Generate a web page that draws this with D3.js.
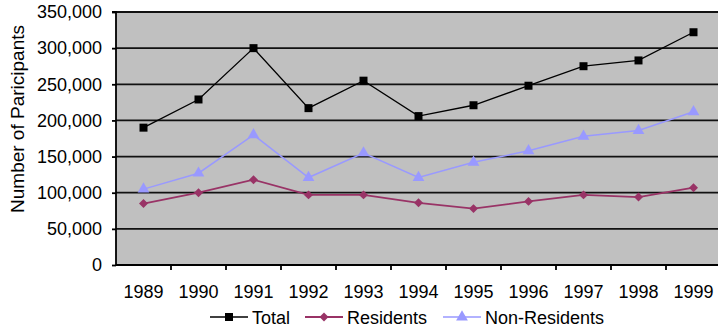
<!DOCTYPE html>
<html><head><meta charset="utf-8">
<script src="https://cdn.jsdelivr.net/npm/d3@7"></script>
<style>body{margin:0;background:#fff}svg{display:block}text{font-family:"Liberation Sans",Arial,sans-serif}</style>
</head><body>
<svg id="c" width="718" height="331"></svg>
<script>
const years = ["1989","1990","1991","1992","1993","1994","1995","1996","1997","1998","1999"];
const total = [190000,229000,300000,217000,255000,206000,221000,248000,275000,283000,322000];
const residents = [85000,100000,118000,97000,97000,86000,78000,88000,97000,94000,107000];
const nonResidents = [105000,127000,180000,121000,155000,121000,142000,158000,178000,186000,212000];
const yTicks = [0,50000,100000,150000,200000,250000,300000,350000];

const svg = d3.select("#c");
const L = 116, R = 721, T = 12, B = 265;
const x = d3.scaleBand().domain(years).range([L, R]);
const y = d3.scaleLinear().domain([0,350000]).range([B, T]);
const FS = 18;

svg.append("rect").attr("x",L).attr("y",T).attr("width",R-L).attr("height",B-T).attr("fill","#c0c0c0");
svg.append("g").selectAll("line").data(yTicks.slice(1)).join("line")
  .attr("x1",L).attr("x2",R).attr("y1",d=>y(d)).attr("y2",d=>y(d))
  .attr("stroke","#111").attr("stroke-width",1.8);

const fmt = d3.format(",");
const yAxis = d3.axisLeft(y).tickValues(yTicks).tickFormat(d=>fmt(d)).tickSize(4).tickPadding(10);
const gy = svg.append("g").attr("transform",`translate(${L},0)`).call(yAxis);
gy.select(".domain").attr("stroke","#000").attr("stroke-width",1.8).attr("d",`M-4,${T}H0V${B}`);
gy.selectAll("text").attr("font-size",FS).attr("fill","#000");
gy.selectAll(".tick line").attr("stroke","#000").attr("stroke-width",1.8);

const xAxis = d3.axisBottom(x).tickSize(0).tickPadding(20);
const gx = svg.append("g").attr("transform",`translate(0,${B})`).call(xAxis);
gx.select(".domain").attr("stroke","#000").attr("stroke-width",1.8).attr("d",`M${L},0H${R}`);
gx.selectAll("text").attr("font-size",FS).attr("fill","#000");
svg.append("g").selectAll("line").data(years).join("line")
  .attr("x1",d=>x(d)+x.bandwidth()).attr("x2",d=>x(d)+x.bandwidth())
  .attr("y1",B).attr("y2",B+5).attr("stroke","#000").attr("stroke-width",1.8);

const cx = d => x(d) + x.bandwidth()/2;
const series = [
  {name:"Total", vals: total, color:"#000000", sym: d3.symbolSquare, size: 64, rot: 0, w: 1.3},
  {name:"Residents", vals: residents, color:"#993366", sym: d3.symbolSquare, size: 40, rot: 45, w: 1.8},
  {name:"Non-Residents", vals: nonResidents, color:"#9999ff", sym: d3.symbolTriangle, size: 60, rot: 0, w: 1.5}
];
const line = d3.line().x((d,i)=>cx(years[i])).y(d=>y(d));
series.slice().reverse().forEach(s=>{
  svg.append("path").datum(s.vals).attr("d",line).attr("fill","none").attr("stroke",s.color).attr("stroke-width",s.w);
  svg.append("g").selectAll("path").data(s.vals).join("path")
    .attr("transform",(d,i)=>`translate(${cx(years[i])},${y(d)}) rotate(${s.rot})`)
    .attr("d",d3.symbol(s.sym,s.size)).attr("fill",s.color);
});

svg.append("text").attr("transform","translate(24,119) rotate(-90)").attr("text-anchor","middle")
  .attr("font-size",19).text("Number of Paricipants");

const legX = [210, 305, 443];
series.forEach((s,i)=>{
  const g = svg.append("g").attr("transform",`translate(${legX[i]},317)`);
  g.append("line").attr("x1",0).attr("x2",38).attr("stroke",s.color).attr("stroke-width",s.w);
  g.append("path").attr("transform",`translate(19,0) rotate(${s.rot})`).attr("d",d3.symbol(s.sym,s.size)).attr("fill",s.color);
  g.append("text").attr("x",42).attr("y",7).attr("font-size",FS).text(s.name);
});
</script>
</body></html>
